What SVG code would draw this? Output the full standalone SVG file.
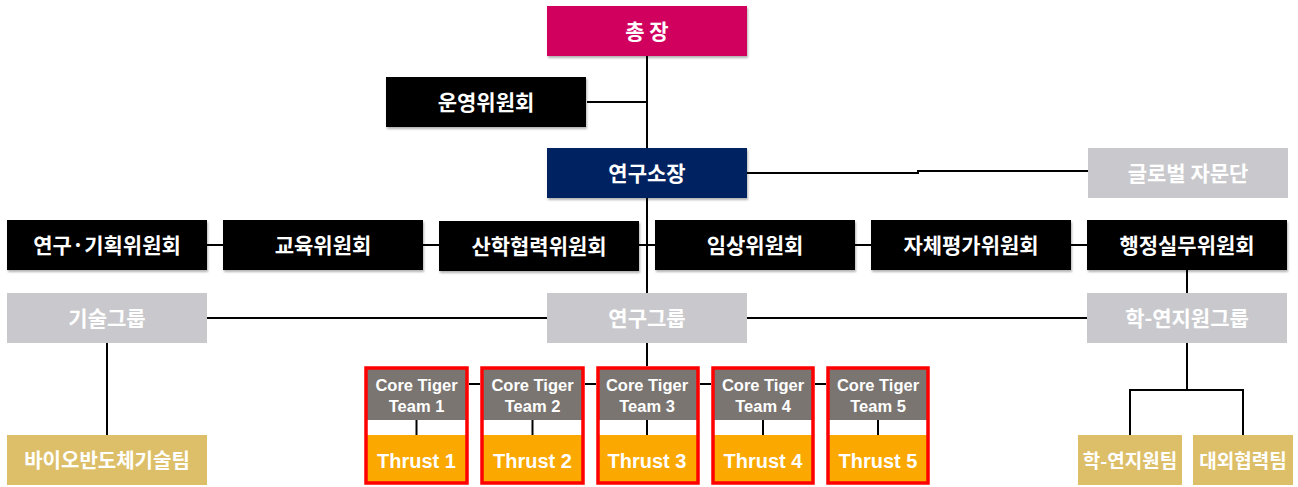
<svg xmlns="http://www.w3.org/2000/svg" width="1298" height="487" viewBox="0 0 1298 487">
<defs>
<filter id="sh" x="-5%" y="-10%" width="110%" height="125%">
<feDropShadow dx="1" dy="2" stdDeviation="1.2" flood-color="#000" flood-opacity="0.3"/>
</filter>
</defs>
<style>
.t{font-family:"Noto Sans CJK KR","Noto Sans",sans-serif;font-weight:bold;fill:#fff;text-anchor:middle;dominant-baseline:central}
.k{font-size:21px}
.blk{fill:#000}
.gry{fill:#C9C9CD}
.gld{fill:#DDBF6A}
.ln{stroke:#000;stroke-width:2;fill:none}
.red{fill:none;stroke:#F00;stroke-width:3.5}
.ct{fill:#7A7571}
.th{fill:#FBA800}
.e{font-family:"Liberation Sans",Arial,sans-serif;font-weight:bold;fill:#fff;text-anchor:middle}
.s{font-size:16.5px}
.b{font-size:20px}
</style>
<g id="connectors">
<path class="ln" d="M647 56V366"/>
<path class="ln" d="M587 102H647"/>
<path class="ln" d="M747 173H918V171H1088"/>
<path class="ln" d="M207 245H1087"/>
<path class="ln" d="M1187 270V293"/>
<path class="ln" d="M207 318H547M747 318H1087"/>
<path class="ln" d="M107 343V435"/>
<path class="ln" d="M1187 343V390M1130 435V390H1243V435"/>
<path class="ln" d="M469 384H480M585 384H596M700 384H711M815 384H826"/>
</g>
<g id="president"><rect x="547" y="6" width="200" height="50" fill="#D1005E" filter="url(#sh)"/><text class="t k" x="647" y="30">총 장</text></g>
<g id="steering"><rect x="386" y="77" width="200" height="50" class="blk" filter="url(#sh)"/><text class="t k" x="486" y="101">운영위원회</text></g>
<g id="director"><rect x="547" y="148" width="200" height="50" fill="#002060" filter="url(#sh)"/><text class="t k" x="647" y="172">연구소장</text></g>
<g id="advisory"><rect x="1088" y="148" width="200" height="50" class="gry"/><text class="t k" x="1188" y="172">글로벌 자문단</text></g>
<g id="c1"><rect x="7" y="220" width="200" height="50" class="blk" filter="url(#sh)"/><text class="t k" x="107" y="244">연구·기획위원회</text></g>
<g id="c2"><rect x="223" y="220" width="200" height="50" class="blk" filter="url(#sh)"/><text class="t k" x="323" y="244">교육위원회</text></g>
<g id="c3"><rect x="439" y="221" width="200" height="50" class="blk" filter="url(#sh)"/><text class="t k" x="539" y="245">산학협력위원회</text></g>
<g id="c4"><rect x="655" y="220" width="200" height="50" class="blk" filter="url(#sh)"/><text class="t k" x="755" y="244">임상위원회</text></g>
<g id="c5"><rect x="871" y="220" width="200" height="50" class="blk" filter="url(#sh)"/><text class="t k" x="971" y="244">자체평가위원회</text></g>
<g id="c6"><rect x="1087" y="220" width="200" height="50" class="blk" filter="url(#sh)"/><text class="t k" x="1187" y="244">행정실무위원회</text></g>
<g id="techgroup"><rect x="7" y="293" width="200" height="50" class="gry"/><text class="t k" x="107" y="317">기술그룹</text></g>
<g id="resgroup"><rect x="547" y="293" width="200" height="50" class="gry"/><text class="t k" x="647" y="317">연구그룹</text></g>
<g id="supgroup"><rect x="1087" y="293" width="200" height="50" class="gry"/><text class="t k" x="1187" y="317">학-연지원그룹</text></g>
<g id="biotech"><rect x="7" y="435" width="200" height="50" class="gld"/><text class="t" style="font-size:20px" x="107" y="459">바이오반도체기술팀</text></g>
<g id="supteam"><rect x="1078" y="435" width="104" height="50" class="gld"/><text class="t" style="font-size:19px" x="1130" y="459">학-연지원팀</text></g>
<g id="extteam"><rect x="1193" y="435" width="100" height="50" class="gld"/><text class="t" style="font-size:19px" x="1243" y="459">대외협력팀</text></g>
<g id="team1">
<rect x="366" y="368" width="101" height="115" fill="#fff"/>
<rect x="366" y="368" width="101" height="52" class="ct"/><rect x="366" y="435" width="101" height="48" class="th"/>
<path class="ln" d="M416.5 420V435" stroke-width="1.5"/>
<rect x="366" y="368" width="101" height="115" class="red"/>
<text class="e s" x="416.5" y="391">Core Tiger</text><text class="e s" x="416.5" y="412">Team 1</text>
<text class="e b" x="416.5" y="468">Thrust 1</text>
</g>
<g id="team2">
<rect x="482" y="368" width="101" height="115" fill="#fff"/>
<rect x="482" y="368" width="101" height="52" class="ct"/><rect x="482" y="435" width="101" height="48" class="th"/>
<path class="ln" d="M532.5 420V435" stroke-width="1.5"/>
<rect x="482" y="368" width="101" height="115" class="red"/>
<text class="e s" x="532.5" y="391">Core Tiger</text><text class="e s" x="532.5" y="412">Team 2</text>
<text class="e b" x="532.5" y="468">Thrust 2</text>
</g>
<g id="team3">
<rect x="598" y="368" width="100" height="115" fill="#fff"/>
<rect x="598" y="368" width="100" height="52" class="ct"/><rect x="598" y="435" width="100" height="48" class="th"/>
<path class="ln" d="M647 420V435" stroke-width="1.5"/>
<rect x="598" y="368" width="100" height="115" class="red"/>
<text class="e s" x="647" y="391">Core Tiger</text><text class="e s" x="647" y="412">Team 3</text>
<text class="e b" x="647" y="468">Thrust 3</text>
</g>
<g id="team4">
<rect x="713" y="368" width="100" height="115" fill="#fff"/>
<rect x="713" y="368" width="100" height="52" class="ct"/><rect x="713" y="435" width="100" height="48" class="th"/>
<path class="ln" d="M763 420V435" stroke-width="1.5"/>
<rect x="713" y="368" width="100" height="115" class="red"/>
<text class="e s" x="763" y="391">Core Tiger</text><text class="e s" x="763" y="412">Team 4</text>
<text class="e b" x="763" y="468">Thrust 4</text>
</g>
<g id="team5">
<rect x="828" y="368" width="100" height="115" fill="#fff"/>
<rect x="828" y="368" width="100" height="52" class="ct"/><rect x="828" y="435" width="100" height="48" class="th"/>
<path class="ln" d="M878 420V435" stroke-width="1.5"/>
<rect x="828" y="368" width="100" height="115" class="red"/>
<text class="e s" x="878" y="391">Core Tiger</text><text class="e s" x="878" y="412">Team 5</text>
<text class="e b" x="878" y="468">Thrust 5</text>
</g>
</svg>
